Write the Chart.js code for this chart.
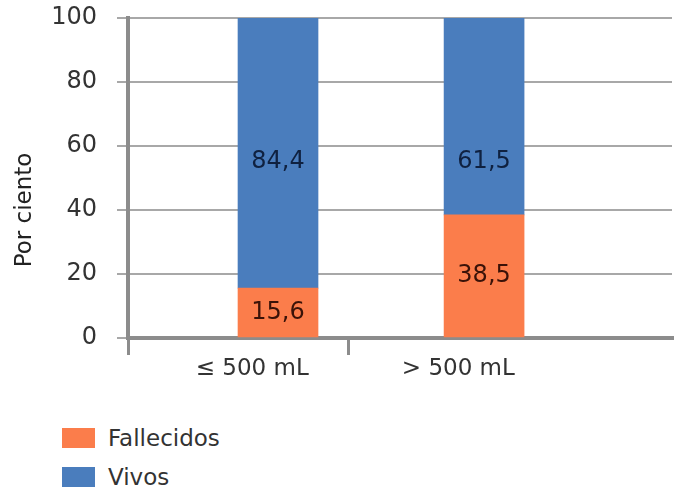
<!DOCTYPE html>
<html>
<head>
<meta charset="utf-8">
<script src="https://cdn.jsdelivr.net/npm/chart.js@4.4.1/dist/chart.umd.min.js"></script>
<style>
  body { margin: 0; background: #fff; }
  #wrap { position: relative; width: 678px; height: 488px; }
  #chart-box { position: absolute; left: 0; top: 0; width: 678px; height: 400px; }
  #legend { position: absolute; left: 62px; top: 424px; margin: 0; padding: 0; list-style: none;
            font: 23px "DejaVu Sans", sans-serif; color: #333; }
  #legend li { display: flex; align-items: center; height: 28px; margin-bottom: 11px; }
  #legend span.box { display: inline-block; width: 33px; height: 20px; margin-right: 13px; }
</style>
</head>
<body>
<div id="wrap">
  <div id="chart-box"><canvas id="bar-chart"></canvas></div>
  <ul id="legend"></ul>
</div>
<script>
const categories = ['≤ 500 mL', '> 500 mL'];
const fallecidos = [15.6, 38.5];
const vivos = [84.4, 61.5];
const yTicks = [0, 20, 40, 60, 80, 100];

const X_MIN = -0.728, X_MAX = 1.912;
const DIVIDER = 0.34;
const LABEL_SHIFT = -0.125;
const FONT = '"DejaVu Sans"';

function getEl(id) {
  const el = document.getElementById(id);
  if (!el) throw new Error(`Element with id '${id}' not found`);
  return el;
}

// numbers inside the bars + y axis title
const barLabels = {
  id: 'barLabels',
  afterDatasetsDraw(chart) {
    const ctx = chart.ctx;
    const yScale = chart.scales.y;
    chart.data.datasets.forEach((ds, di) => {
      const meta = chart.getDatasetMeta(di);
      meta.data.forEach((bar, i) => {
        const p = bar.getProps(['x', 'y', 'base'], true);
        const ty = ds.labelAt != null ? yScale.getPixelForValue(ds.labelAt) : (p.y + p.base) / 2;
        ctx.save();
        ctx.font = '24px ' + FONT;
        ctx.fillStyle = ds.labelColor;
        ctx.textAlign = 'center';
        ctx.textBaseline = 'middle';
        ctx.fillText(ds.data[i].y.toFixed(1).replace('.', ','), p.x, ty);
        ctx.restore();
      });
    });
    // axis title sits a bit below the middle in the original
    ctx.save();
    ctx.translate(25, yScale.getPixelForValue(40));
    ctx.rotate(-Math.PI / 2);
    ctx.font = '23px ' + FONT;
    ctx.fillStyle = '#222';
    ctx.textAlign = 'center';
    ctx.textBaseline = 'middle';
    ctx.fillText('Por ciento', 0, 0);
    ctx.restore();
  }
};

const tickCol = (ctx) => {
  const v = ctx.tick ? ctx.tick.value : null;
  return (v === X_MIN || v === DIVIDER) ? '#8c8c8c' : 'rgba(0,0,0,0)';
};

const chart = new Chart(getEl('bar-chart').getContext('2d'), {
  type: 'bar',
  data: {
    datasets: [
      {
        label: 'Fallecidos',
        data: fallecidos.map((v, i) => ({ x: i, y: v })),
        backgroundColor: '#fb7d4b',
        labelColor: '#3a1208',
        barThickness: 80
      },
      {
        label: 'Vivos',
        data: vivos.map((v, i) => ({ x: i, y: v })),
        backgroundColor: '#4a7dbd',
        labelColor: '#0f2140',
        labelAt: 55,
        barThickness: 80
      }
    ]
  },
  options: {
    responsive: true,
    maintainAspectRatio: false,
    animation: false,
    layout: { padding: { top: 18, right: 6, left: 0, bottom: 0 } },
    plugins: { legend: { display: false }, tooltip: { enabled: false } },
    scales: {
      x: {
        type: 'linear',
        offset: false,
        stacked: true,
        min: X_MIN,
        max: X_MAX,
        afterBuildTicks(scale) {
          scale.ticks = [{ value: X_MIN }, { value: LABEL_SHIFT }, { value: DIVIDER }, { value: 1 + LABEL_SHIFT }];
        },
        afterFit(scale) { scale.height = 62; },
        border: { display: true, color: '#8c8c8c', width: 4 },
        grid: { offset: false, drawOnChartArea: false, drawTicks: true, tickLength: 17, color: tickCol, lineWidth: 3 },
        ticks: {
          autoSkip: false,
          maxRotation: 0,
          padding: 0,
          color: '#333',
          font: { family: 'DejaVu Sans', size: 23 },
          callback(value) {
            if (value === LABEL_SHIFT) return categories[0];
            if (value === 1 + LABEL_SHIFT) return categories[1];
            return '';
          }
        }
      },
      y: {
        stacked: true,
        min: 0,
        max: 100,
        afterBuildTicks(scale) { scale.ticks = yTicks.map(v => ({ value: v })); },
        afterFit(scale) {
          scale.width = 128;
          scale.paddingTop = 14;
          scale.paddingBottom = 14;
        },
        border: { display: true, color: '#8c8c8c', width: 4 },
        grid: { color: '#a8a8a8', lineWidth: 2, tickLength: 11 },
        ticks: { color: '#333', padding: 20, font: { family: 'DejaVu Sans', size: 24 } }
      }
    }
  },
  plugins: [barLabels]
});

// legend list from the datasets
getEl('legend').innerHTML = chart.data.datasets.map(ds =>
  `<li><span class="box" style="background:${ds.backgroundColor}"></span><span>${ds.label}</span></li>`
).join('');
</script>
</body>
</html>
